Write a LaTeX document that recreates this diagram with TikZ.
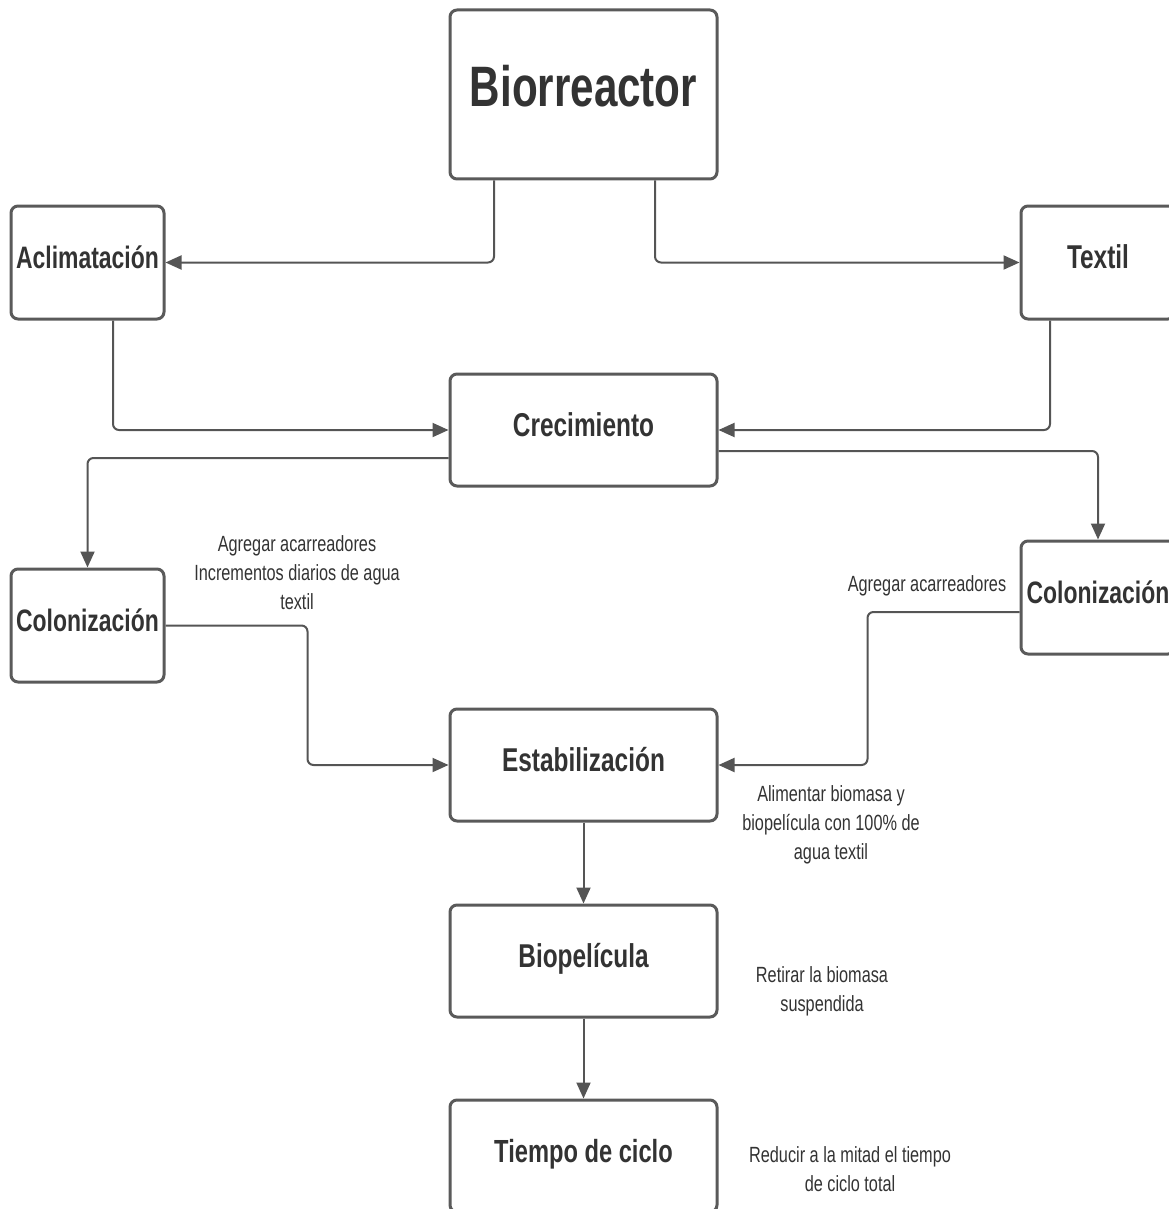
\documentclass[tikz,border=0pt]{standalone}
\usepackage{fontspec}
\setmainfont{Liberation Sans}[FakeStretch=0.74]
\usetikzlibrary{arrows.meta,calc}
\definecolor{boxline}{HTML}{5A5A5A}
\definecolor{conline}{HTML}{555555}
\definecolor{txt}{HTML}{333333}
\tikzset{
  stagebox/.style={draw=boxline, line width=3pt, rounded corners=7pt, fill=white,
    inner sep=0pt, text=txt, font=\fontsize{33}{36}\selectfont\bfseries,
    text height=24pt, text depth=12pt},
  sidebox/.style={stagebox, font=\fontsize{31}{34}\selectfont\bfseries},
  mainbox/.style={stagebox, font=\fontsize{57}{60}\selectfont\bfseries,
    text height=41pt, text depth=16pt},
  conn/.style={draw=conline, line width=2pt, rounded corners=6pt,
    -{Triangle[length=16pt,width=14pt]}},
  note/.style={text=txt, align=center, font=\fontsize{22}{29}\selectfont, inner sep=0pt}
}
\begin{document}
\begin{tikzpicture}[x=1pt,y=-1pt]
\useasboundingbox (0,0) rectangle (1168,1209);
\node[mainbox, minimum width=267pt, minimum height=169pt] (bio) at (583.5,94.5) {Biorreactor};
\node[sidebox, minimum width=153pt, minimum height=113pt] (acl) at (87.5,262.5) {Aclimatación};
\node[stagebox, minimum width=154pt, minimum height=113pt] (tex) at (1098,262.5) {Textil};
\node[stagebox, minimum width=267pt, minimum height=112pt] (cre) at (583.5,430) {Crecimiento};
\node[sidebox, minimum width=153pt, minimum height=113pt] (coll) at (87.5,625.5) {Colonización};
\node[sidebox, minimum width=154pt, minimum height=113pt] (colr) at (1098,597.5) {Colonización};
\node[stagebox, minimum width=267pt, minimum height=112pt] (est) at (583.5,765) {Estabilización};
\node[stagebox, minimum width=267pt, minimum height=112pt] (bpl) at (583.5,961) {Biopelícula};
\node[stagebox, font=\fontsize{32}{35}\selectfont\bfseries, minimum width=267pt, minimum height=112pt] (tie) at (583.5,1156) {Tiempo de ciclo};

\draw[conn] ([xshift=-89.5pt]bio.south) |- (acl.east);
\draw[conn] ([xshift=71.5pt]bio.south) |- (tex.west);
\draw[conn] ([xshift=25.5pt]acl.south) |- (cre.west);
\draw[conn] ([xshift=-48pt]tex.south) |- (cre.east);
\draw[conn] ([yshift=-28pt]cre.west) -| (coll.north);
\draw[conn] ([yshift=-21pt]cre.east) -| (colr.north);
\draw[conn] (coll.east) -- ++(142,0) |- (est.west);
\draw[conn] ([yshift=-14.5pt]colr.west) -- ++(-152,0) |- (est.east);
\draw[conn] (est.south) -- (bpl.north);
\draw[conn] (bpl.south) -- (tie.north);

\node[note] (n1) at (297,573) {Agregar acarreadores\\Incrementos diarios de agua\\textil};
\node[note] (n2) at (927,586) {Agregar acarreadores};
\node[note] (n3) at (831,825) {Alimentar biomasa y\\biopelícula con 100\% de\\agua textil};
\node[note] (n4) at (822,991) {Retirar la biomasa\\suspendida};
\node[note] (n5) at (850,1169) {Reducir a la mitad el tiempo\\de ciclo total};
\end{tikzpicture}
\end{document}
